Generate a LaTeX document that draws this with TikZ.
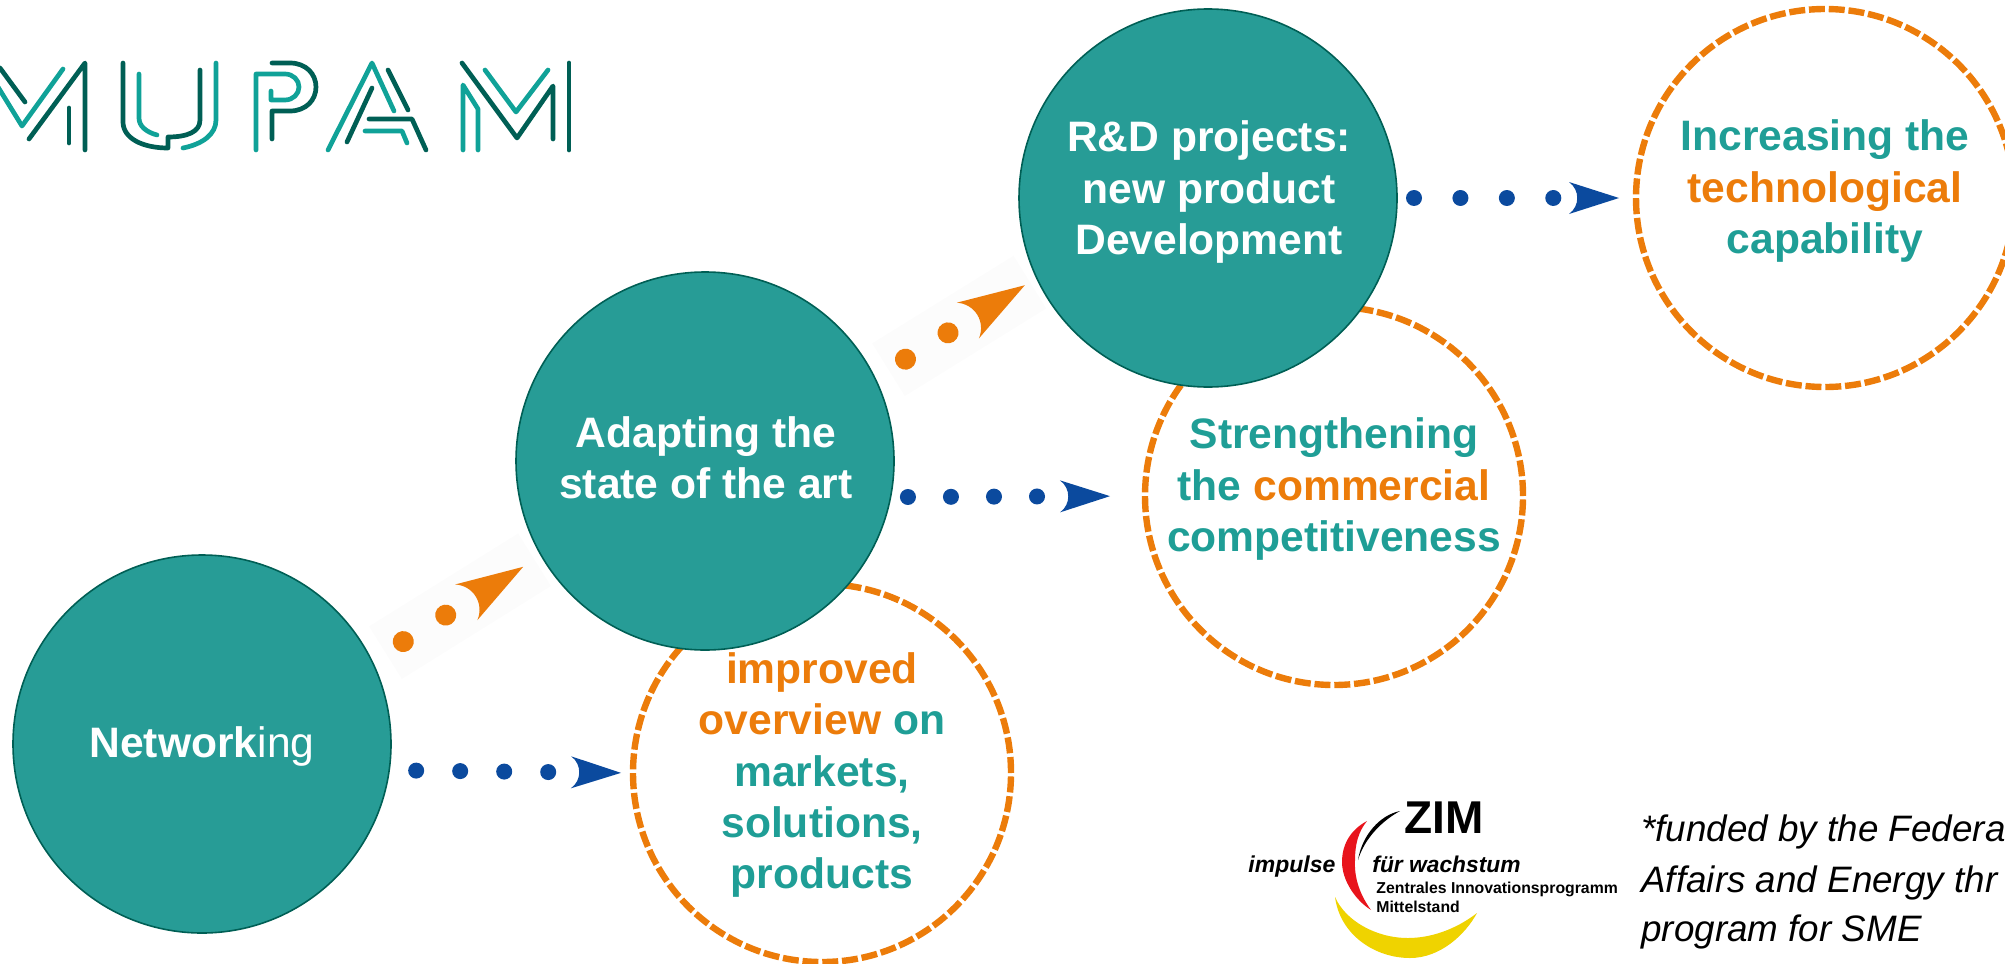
\documentclass[tikz,border=0pt]{standalone}
\usepackage{fontspec}
\setmainfont{Liberation Sans}
\usetikzlibrary{arrows.meta}
\definecolor{stageFill}{HTML}{279C96}
\definecolor{stageEdge}{HTML}{005F55}
\definecolor{goalTeal}{HTML}{1F9E96}
\definecolor{flowOrange}{HTML}{EC7C0A}
\definecolor{flowBlue}{HTML}{0B4A9E}
\definecolor{logoTeal}{HTML}{10A298}
\definecolor{logoDark}{HTML}{005F55}
\definecolor{zimRed}{HTML}{E8141C}
\definecolor{zimYellow}{HTML}{EFD300}
\pgfdeclarearrow{
  name=SweptHead,
  parameters={\the\pgfarrowlength,\the\pgfarrowwidth},
  setup code={
    \pgfarrowssettipend{\pgfarrowlength}
    \pgfarrowssetbackend{0pt}
    \pgfarrowssetlineend{0.12\pgfarrowlength}
    \pgfarrowssavethe\pgfarrowlength
    \pgfarrowssavethe\pgfarrowwidth
  },
  drawing code={
    \pgfpathmoveto{\pgfqpoint{\pgfarrowlength}{0pt}}
    \pgfpathlineto{\pgfqpoint{0pt}{0.5\pgfarrowwidth}}
    \pgfpathcurveto{\pgfqpoint{0.22\pgfarrowlength}{0.25\pgfarrowwidth}}{\pgfqpoint{0.22\pgfarrowlength}{-0.25\pgfarrowwidth}}{\pgfqpoint{0pt}{-0.5\pgfarrowwidth}}
    \pgfpathclose
    \pgfusepathqfill
  },
  defaults={length=25pt,width=16pt}
}
\tikzset{
  stageCircle/.style={circle,draw=stageEdge,fill=stageFill,line width=0.8pt,minimum size=\circleSize pt,inner sep=0pt,outer sep=0pt},
  goalCircle/.style={circle,draw=flowOrange,line width=3.2pt,dash pattern=on 8pt off 1.9pt,minimum size=\circleSize pt,inner sep=0pt,outer sep=0pt},
  stageText/.style={text=white,align=center,inner sep=0pt,font=\fontsize{21.3}{25.6}\selectfont\bfseries},
  goalText/.style={text=goalTeal,align=center,inner sep=0pt,font=\fontsize{21.3}{25.6}\selectfont\bfseries},
  blueFlow/.style={draw=flowBlue,line width=8pt,line cap=round,dash pattern=on 0.01pt off #1,-{SweptHead[length=25pt,width=16pt]}},
  orangeFlow/.style={draw=flowOrange,line width=10.5pt,line cap=round,dash pattern=on 0.01pt off 25pt,-{SweptHead[length=33.5pt,width=21pt]}},
  flowHaze/.style={draw=black!1,line width=31pt,shorten <=8pt,shorten >=4pt},
  logoLine/.style={line width=2.35pt,line cap=round,line join=round},
  zimText/.style={anchor=base west,inner sep=0pt,text=black},
  noteText/.style={anchor=base west,inner sep=0pt,font=\fontsize{18.4}{22}\selectfont\itshape}
}
\begin{document}
\begin{tikzpicture}[x=0.5pt,y=-0.5pt]
        \pgfmathsetmacro{\circleSize}{189}
        \clip (0,0) rectangle (2005,963);
        \node[goalCircle] (improved) at (822,773) {};
        \node[goalCircle] (strengthening) at (1334,496) {};
        \node[goalCircle] (increasing) at (1825,198) {};
        \node[stageCircle] (networking) at (202,744) {};
        \node[stageCircle] (adapting) at (705,461) {};
        \node[stageCircle] (rdProjects) at (1208,198) {};
        \node[stageText,font=\fontsize{21.3}{25.6}\selectfont] (networkingText) at (202,746) {{\bfseries Network}ing};
        \node[stageText] (adaptingText) at (706,458) {Adapting the\\state of the art};
        \node[stageText] (rdProjectsText) at (1209,192) {R\&D projects:\\new product\\Development};
        \node[goalText] (improvedText) at (822,775) {\textcolor{flowOrange}{improved}\\\textcolor{flowOrange}{overview} on\\markets,\\solutions,\\products};
        \node[goalText] (strengtheningText) at (1334,489) {Strengthening\\the \textcolor{flowOrange}{commercial}\\competitiveness};
        \node[goalText] (increasingText) at (1825,191) {Increasing the\\\textcolor{flowOrange}{technological}\\capability};
        \draw[flowHaze] (networking.26) -- (adapting.210);
        \draw[flowHaze] (adapting.26) -- (rdProjects.205);
        \draw[orangeFlow,shorten <=18.5pt,shorten >=10.7pt] (networking.26) -- (adapting.210);
        \draw[orangeFlow,shorten <=18pt,shorten >=7pt] (adapting.26) -- (rdProjects.205);
        \draw[blueFlow=22pt,shorten <=13.5pt,shorten >=6pt] (networking.-8) -- (improved.180);
        \draw[blueFlow=21.5pt,shorten <=8.7pt,shorten >=17.5pt] (adapting.-11) -- (strengthening.180);
        \draw[blueFlow=23.2pt,shorten <=8.5pt,shorten >=8.5pt] (rdProjects.0) -- (increasing.180);
        \draw[logoLine,logoDark] (0,68) -- (25,102);
        \draw[logoLine,logoTeal] (-2,87) -- (22,126) -- (63,69);
        \draw[logoLine,logoDark] (29,139) -- (85,63) -- (85,150);
        \draw[logoLine,logoDark] (69,108) -- (69,143);
        \draw[logoLine,logoDark] (123,63) -- (123,122) .. controls (123,138) and (142,148) .. (168,148) -- (168,137) .. controls (187,137) and (200,132) .. (200,120) -- (200,70);
        \draw[logoLine,logoTeal] (139,74) -- (139,118) .. controls (139,126) and (146,132) .. (157,135);
        \draw[logoLine,logoTeal] (216,63) -- (216,120) .. controls (216,134) and (203,144) .. (183,148);
        \draw[logoLine,logoDark] (272,63) -- (290,63) .. controls (306,63) and (316,74) .. (316,87) .. controls (316,100) and (306,111) .. (290,111) -- (272,111) -- (272,139);
        \draw[logoLine,logoTeal] (256,150) -- (256,74) -- (285,74) .. controls (293,74) and (299,80) .. (299,87) .. controls (299,94) and (293,100) .. (285,100) -- (271,100) -- (271,91);
        \draw[logoLine,logoTeal] (328,150) -- (372,63) -- (394,111);
        \draw[logoLine,logoDark] (388,70) -- (408,110);
        \draw[logoLine,logoDark] (347,142) -- (372,88);
        \draw[logoLine,logoDark] (369,119) -- (412,119) -- (426,150);
        \draw[logoLine,logoTeal] (365,131) -- (402,131) -- (407,143);
        \draw[logoLine,logoDark] (462,63) -- (517,138) -- (553,86) -- (553,139);
        \draw[logoLine,logoTeal] (463,150) -- (463,85) -- (478,109) -- (478,150);
        \draw[logoLine,logoTeal] (485,70) -- (516,112) -- (548,70);
        \draw[logoLine,logoDark] (569,63) -- (569,150);
        \fill[black] (1400,811) .. controls (1380,815) and (1362,835) .. (1358,860) .. controls (1364,840) and (1380,822) .. cycle;
        \fill[zimRed] (1367,821) .. controls (1350,830) and (1342,845) .. (1342,862) .. controls (1342,880) and (1355,900) .. (1371,910) .. controls (1360,895) and (1354,878) .. (1355,860) .. controls (1355,845) and (1358,832) .. cycle;
        \fill[zimYellow] (1335,897) .. controls (1340,935) and (1375,958) .. (1410,958) .. controls (1440,958) and (1465,935) .. (1477,913) .. controls (1455,930) and (1430,938) .. (1408,938) .. controls (1375,938) and (1345,920) .. cycle;
        \node[zimText,font=\fontsize{23}{25}\selectfont\bfseries] (zimTitle) at (1404,833) {ZIM};
        \node[zimText,font=\fontsize{11.5}{13}\selectfont\bfseries\itshape] (zimImpulse) at (1248,872) {impulse};
        \node[zimText,font=\fontsize{11.4}{13}\selectfont\bfseries\itshape] (zimGrowth) at (1372,872) {für wachstum};
        \node[zimText,font=\fontsize{7.9}{9}\selectfont\bfseries] (zimProgram) at (1376,893) {Zentrales Innovationsprogramm};
        \node[zimText,font=\fontsize{7.9}{9}\selectfont\bfseries] (zimMittelstand) at (1376,912) {Mittelstand};
        \node[noteText] (noteFirst) at (1641,841) {*funded by the Federa};
        \node[noteText] (noteSecond) at (1641,892) {Affairs and Energy thr};
        \node[noteText] (noteThird) at (1641,941) {program for SME};
      \end{tikzpicture}
\end{document}
